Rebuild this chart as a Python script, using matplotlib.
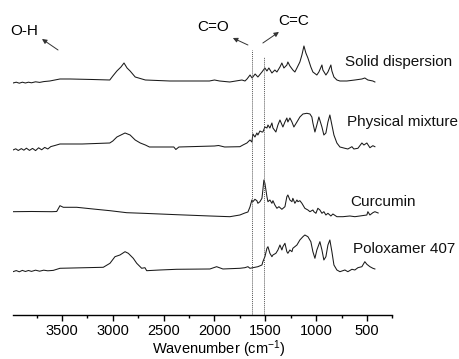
import matplotlib

matplotlib.use("Agg")
import matplotlib.pyplot as plt

plt.rcParams["font.family"] = ["Liberation Sans", "DejaVu Sans"]
plt.rcParams["mathtext.default"] = "regular"

# FTIR-Spektren, Intensität in willkürlichen Einheiten (bereits versetzt gestapelt)
solid_wn = [3982, 3950, 3920, 3890, 3860, 3830, 3800, 3760, 3720, 3680, 3620, 3570, 3520, 3420, 3200,
            3030, 3000, 2960, 2920, 2890, 2860, 2830, 2780, 2680, 2440, 2050, 2000, 1950, 1850, 1730,
            1700, 1680, 1650, 1630, 1600, 1573, 1533, 1504, 1484, 1465, 1435, 1406, 1386, 1356, 1337,
            1317, 1288, 1278, 1258, 1229, 1209, 1189, 1160, 1140, 1120, 1101, 1081, 1052, 1032, 993,
            973, 943, 934, 904, 884, 855, 845, 825, 796, 766, 698, 619, 550, 521, 491, 442, 422]
solid_int = [232, 232.8, 231.8, 232.8, 232, 232.8, 232.2, 233.2, 232.6, 233.4, 234, 235, 236, 236, 235.5,
             235, 239, 244, 248, 252, 247, 244, 238, 235, 234, 234, 235, 234, 233, 235,
             234, 236, 240, 237, 241, 238, 243, 247, 244, 247, 242, 245, 243, 248, 252,
             247, 250, 253, 249, 245, 243, 247, 253, 260, 269, 262, 257, 248, 243, 240,
             243, 250, 245, 240, 243, 250, 244, 238, 235, 234, 234, 235, 236, 237, 235, 234, 233]

mix_wn = [3982, 3955, 3930, 3900, 3875, 3850, 3820, 3790, 3760, 3730, 3700, 3670, 3640, 3610, 3570,
          3520, 3300, 3030, 3000, 2960, 2900, 2880, 2830, 2780, 2730, 2680, 2640, 2400, 2380, 2350,
          2000, 1960, 1900, 1750, 1720, 1681, 1651, 1632, 1622, 1602, 1583, 1573, 1553, 1533, 1524,
          1504, 1484, 1474, 1455, 1435, 1425, 1396, 1376, 1356, 1327, 1307, 1288, 1278, 1258, 1238,
          1219, 1189, 1160, 1130, 1091, 1061, 1042, 1032, 1012, 993, 973, 943, 924, 904, 884,
          865, 845, 825, 796, 766, 717, 688, 648, 629, 589, 550, 530, 501, 471, 442, 422]
mix_int = [165, 166.2, 164.5, 166.4, 164.8, 166.8, 164.6, 166.6, 164.4, 167.2, 165.2, 167.6, 166, 168.4, 169.5,
           171, 171, 172, 174, 178, 181, 182, 180, 175, 172, 170, 168, 168, 165.5, 168,
           169, 169.5, 168, 168.3, 170, 172, 175, 173, 181, 178, 182, 180, 184, 183, 183,
           188, 187, 190, 187, 192, 187, 183, 190, 195, 188, 193, 197, 193, 197, 193,
           188, 193, 198, 201, 201.7, 201, 198, 192, 183, 190, 198, 188, 180, 182, 193,
           200, 190, 180, 172, 168, 166.7, 166, 168.3, 166, 166.7, 172, 170, 172, 167.3, 169.3, 168.3]

curc_wn = [3982, 3800, 3600, 3552, 3520, 3487, 3355, 3195, 3028, 2864, 2704, 2372, 2045, 1848, 1750,
           1701, 1671, 1651, 1632, 1622, 1602, 1583, 1573, 1553, 1533, 1524, 1514, 1504, 1484, 1474,
           1455, 1435, 1425, 1406, 1386, 1366, 1337, 1307, 1288, 1278, 1258, 1238, 1229, 1209, 1189,
           1179, 1160, 1140, 1111, 1081, 1061, 1032, 1022, 1002, 983, 963, 943, 924, 904, 884,
           855, 835, 796, 737, 668, 619, 570, 501, 491, 471, 442, 422, 390]
curc_int = [103.3, 103.5, 103.3, 103.5, 109.3, 107.7, 107.7, 106, 104.3, 102.3, 101.7, 100.3, 99, 98.3, 100,
            102, 103, 108, 115, 113.3, 115.7, 114.3, 111.7, 113.3, 116.7, 125, 135, 131.7, 118.3, 113.3,
            115, 111.7, 114.3, 110, 106.7, 108.3, 105.7, 108.3, 118.3, 120, 115, 113.3, 116.7, 111.7, 115,
            113.3, 114.3, 111.7, 106.7, 105, 103.3, 105, 103.3, 101.7, 106.7, 105, 101.7, 103.3, 100, 101.7,
            99, 101, 98.3, 98.3, 99, 98.3, 99, 100, 103.3, 100, 102.3, 103.3, 102]

polo_wn = [3982, 3950, 3920, 3890, 3860, 3830, 3800, 3760, 3720, 3680, 3640, 3586, 3520, 3094, 3028,
           2979, 2930, 2880, 2848, 2799, 2765, 2716, 2684, 2667, 2536, 2372, 2045, 1979, 1917, 1750,
           1701, 1671, 1651, 1622, 1573, 1533, 1524, 1504, 1484, 1474, 1455, 1435, 1425, 1396, 1376,
           1356, 1337, 1327, 1307, 1288, 1278, 1258, 1238, 1229, 1189, 1160, 1130, 1111, 1081, 1052,
           1032, 1012, 993, 963, 943, 924, 904, 884, 865, 845, 825, 796, 766, 717, 688,
           648, 619, 589, 550, 521, 501, 471, 442, 422]
polo_int = [43.3, 44.4, 43.2, 44.6, 43.5, 44.5, 43.6, 44.8, 43.8, 44.8, 44.2, 44.6, 46.7, 47.7, 51.7,
            58.3, 60, 63.3, 61.7, 56.7, 51.7, 46.7, 47.3, 44.3, 45, 45.7, 46, 48.3, 46, 46.7,
            47.3, 48.3, 46.7, 47.3, 48.3, 50, 53.3, 58.3, 66.7, 68.3, 61.7, 58.3, 60, 61.7, 65,
            70, 65, 68.3, 71.7, 63.3, 61.7, 65, 63.3, 66.7, 70, 75, 78.3, 80, 78.3, 73.3,
            63.3, 56.7, 65, 73.3, 65, 55, 58.3, 70, 75, 63.3, 50, 45, 43.3, 45, 43.3,
            45.7, 45, 47.3, 48.3, 53.3, 50.7, 48.3, 46.7, 46]

spectra = [
    ("Solid dispersion", solid_wn, solid_int, (717, 253)),
    ("Physical mixture", mix_wn, mix_int, (698, 193)),
    ("Curcumin", curc_wn, curc_int, (668, 113)),
    ("Poloxamer 407", polo_wn, polo_int, (639, 66)),
]

# Markierungslinien (C=O, C=C) und ihre Höhe
marker_wn = [1635, 1510]
marker_top = [265, 258]

fig = plt.figure(figsize=(4.6, 3.59), dpi=100)
ax = fig.add_axes([0.0276, 0.1226, 0.8254, 0.8774])

for name, wn, inten, (lx, ly) in spectra:
    ax.plot(wn, inten, color="#1a1a1a", linewidth=0.75)
    ax.text(lx, ly, name, fontsize=11, va="center", ha="left", color="#111111")

for wn, top in zip(marker_wn, marker_top):
    ax.plot([wn, wn], [0, top], color="#555555", linewidth=0.7, linestyle=(0, (1, 1)))

arrow = dict(arrowstyle="-|>", color="#333333", lw=0.7, mutation_scale=7, shrinkA=0, shrinkB=0)
ax.annotate("", xy=(3697, 276), xytext=(3539, 265), arrowprops=arrow)
ax.annotate("", xy=(1819, 277), xytext=(1671, 270), arrowprops=arrow)
ax.annotate("", xy=(1366, 283), xytext=(1524, 272), arrowprops=arrow)
ax.text(3874, 284, "O-H", fontsize=11, ha="center", va="center")
ax.text(2015, 287.5, "C=O", fontsize=11, ha="center", va="center")
ax.text(1219, 294, "C=C", fontsize=11, ha="center", va="center")

ax.set_xlim(3985, 250)
ax.set_ylim(0, 315)
ax.set_xticks([3500, 3000, 2500, 2000, 1500, 1000, 500])
ax.set_xticks([3750, 3250, 2750, 2250, 1750, 1250, 750, 250], minor=True)
ax.tick_params(axis="x", which="major", length=4, width=1, labelsize=10.5, pad=2.2)
ax.tick_params(axis="x", which="minor", length=2.5, width=1)
ax.set_yticks([])
for spine in ("top", "right", "left"):
    ax.spines[spine].set_visible(False)
ax.spines["bottom"].set_linewidth(1)
ax.set_xlabel("Wavenumber (cm$^{-1}$)", fontsize=10.5)
ax.xaxis.set_label_coords(0.5425, -0.075)

fig.savefig("out.png", dpi=100)
